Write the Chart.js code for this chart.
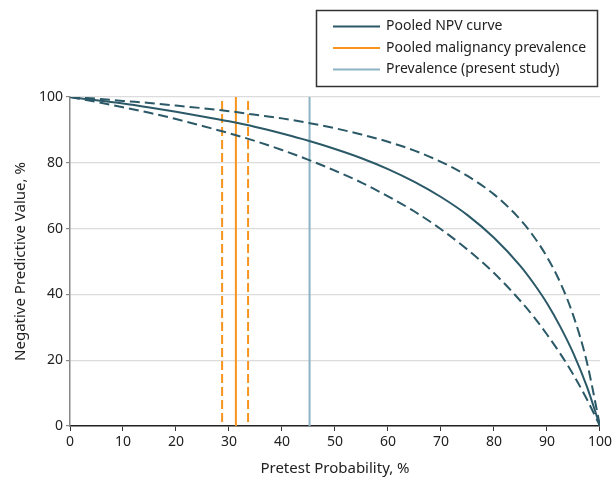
<!DOCTYPE html>
<html>
<head>
<meta charset="utf-8">
<script src="https://cdn.jsdelivr.net/npm/chart.js@4/dist/chart.umd.min.js"></script>
<style>
html,body{margin:0;padding:0;background:#fff;}
#wrap{width:615px;height:480px;position:relative;}
</style>
</head>
<body>
<div id="wrap"><canvas id="c" width="615" height="480"></canvas></div>
<script>
// Pretest probability (%) grid
const pretest = [0,5,10,15,20,25,30,35,40,45,50,55,60,65,70,75,80,85,87.5,90,92.5,95,97.5,100];
// Pooled NPV curve (%)
const npvPooled = [100,99.0,98.0,96.8,95.5,94.1,92.6,90.9,88.9,86.7,84.2,81.4,78.1,74.2,69.6,64.1,57.2,48.6,43.3,37.3,30.2,22.0,12.1,0];
// Upper confidence bound (%)
const npvUpper = [100,99.5,98.8,98.2,97.4,96.6,95.7,94.6,93.5,92.1,90.5,88.6,86.4,83.7,80.3,76.0,70.4,62.7,57.6,51.4,43.6,33.4,19.6,0];
// Lower confidence bound (%)
const npvLower = [100,98.5,96.9,95.2,93.3,91.2,89.0,86.6,83.9,80.9,77.6,74.0,69.8,65.2,59.8,53.6,46.5,38.0,33.2,27.8,22.0,15.5,8.2,0];
// Pooled malignancy prevalence and its CI (%)
const pooledPrevalence = 31.3;
const pooledPrevalenceCI = [28.7, 33.6];
// Prevalence in present study (%)
const studyPrevalence = 45.2;
// Axis tick labels
const xTicks = [0,10,20,30,40,50,60,70,80,90,100];
const yTicks = [0,20,40,60,80,100];

const TEAL = '#2b5967';
const ORANGE = '#f7941d';
const BLUE = '#8db3c4';
const FONT = '"Noto Sans", sans-serif';

const pts = (ys) => pretest.map((x,i)=>({x:x,y:ys[i]}));
const vline = (x, y0) => [{x:x,y:y0},{x:x,y:100}];

const legendItems = [
  {label:'Pooled NPV curve', color:TEAL},
  {label:'Pooled malignancy prevalence', color:ORANGE},
  {label:'Prevalence (present study)', color:BLUE}
];

const boxLegend = {
  id:'boxLegend',
  afterDraw(chart){
    const ctx = chart.ctx;
    ctx.save();
    ctx.strokeStyle = '#333';
    ctx.lineWidth = 1.5;
    ctx.strokeRect(316.5, 10.5, 281, 76);
    ctx.font = '14px ' + FONT;
    ctx.textBaseline = 'middle';
    ctx.fillStyle = '#222';
    legendItems.forEach((it,i)=>{
      const y = 26.5 + i*21.5;
      ctx.strokeStyle = it.color;
      ctx.lineWidth = 2;
      ctx.beginPath(); ctx.moveTo(333,y); ctx.lineTo(380,y); ctx.stroke();
      ctx.fillText(it.label, 386, y);
    });
    ctx.restore();
  }
};

new Chart(document.getElementById('c'), {
  type:'line',
  data:{
    datasets:[
      {label:'Pooled NPV curve', data:pts(npvPooled), borderColor:TEAL, borderWidth:2, pointRadius:0, cubicInterpolationMode:'monotone', order:1},
      {label:'Upper', data:pts(npvUpper), borderColor:TEAL, borderWidth:2, borderDash:[10,5], pointRadius:0, cubicInterpolationMode:'monotone', order:1},
      {label:'Lower', data:pts(npvLower), borderColor:TEAL, borderWidth:2, borderDash:[10,5], pointRadius:0, cubicInterpolationMode:'monotone', order:1},
      {label:'Pooled malignancy prevalence', data:vline(pooledPrevalence,0), borderColor:ORANGE, borderWidth:2, pointRadius:0, order:2},
      {label:'CI low', data:vline(pooledPrevalenceCI[0],1.2), borderColor:ORANGE, borderWidth:2, borderDash:[9,4], pointRadius:0, order:2},
      {label:'CI high', data:vline(pooledPrevalenceCI[1],1.2), borderColor:ORANGE, borderWidth:2, borderDash:[9,4], pointRadius:0, order:2},
      {label:'Prevalence (present study)', data:vline(studyPrevalence,0), borderColor:BLUE, borderWidth:2, pointRadius:0, order:2}
    ]
  },
  options:{
    responsive:false,
    animation:false,
    layout:{padding:{top:97,right:14,left:0,bottom:0}},
    plugins:{legend:{display:false}, tooltip:{enabled:false}},
    scales:{
      x:{
        type:'linear', min:0, max:100,
        afterBuildTicks(s){ s.ticks = xTicks.map(v=>({value:v})); },
        afterFit(s){ s.height = 54; },
        ticks:{font:{family:FONT,size:14}, color:'#222', padding:3, maxRotation:0},
        grid:{drawOnChartArea:false, drawTicks:true, tickLength:5, color:'#333'},
        border:{color:'#222', width:1.5},
        title:{display:true, text:'Pretest Probability, %', font:{family:FONT,size:15}, color:'#222', padding:{top:4,bottom:2}}
      },
      y:{
        min:0, max:100,
        afterBuildTicks(s){ s.ticks = yTicks.map(v=>({value:v})); },
        afterFit(s){ s.width = 70; },
        ticks:{font:{family:FONT,size:14}, color:'#222', padding:3},
        grid:{color:'#dcdcdc', lineWidth:1.2, drawTicks:true, tickLength:4, tickColor:'#888'},
        border:{color:'#888', width:1.5},
        title:{display:true, text:'Negative Predictive Value, %', font:{family:FONT,size:15}, color:'#222', padding:{top:12,bottom:4}}
      }
    }
  },
  plugins:[boxLegend]
});
</script>
</body>
</html>
